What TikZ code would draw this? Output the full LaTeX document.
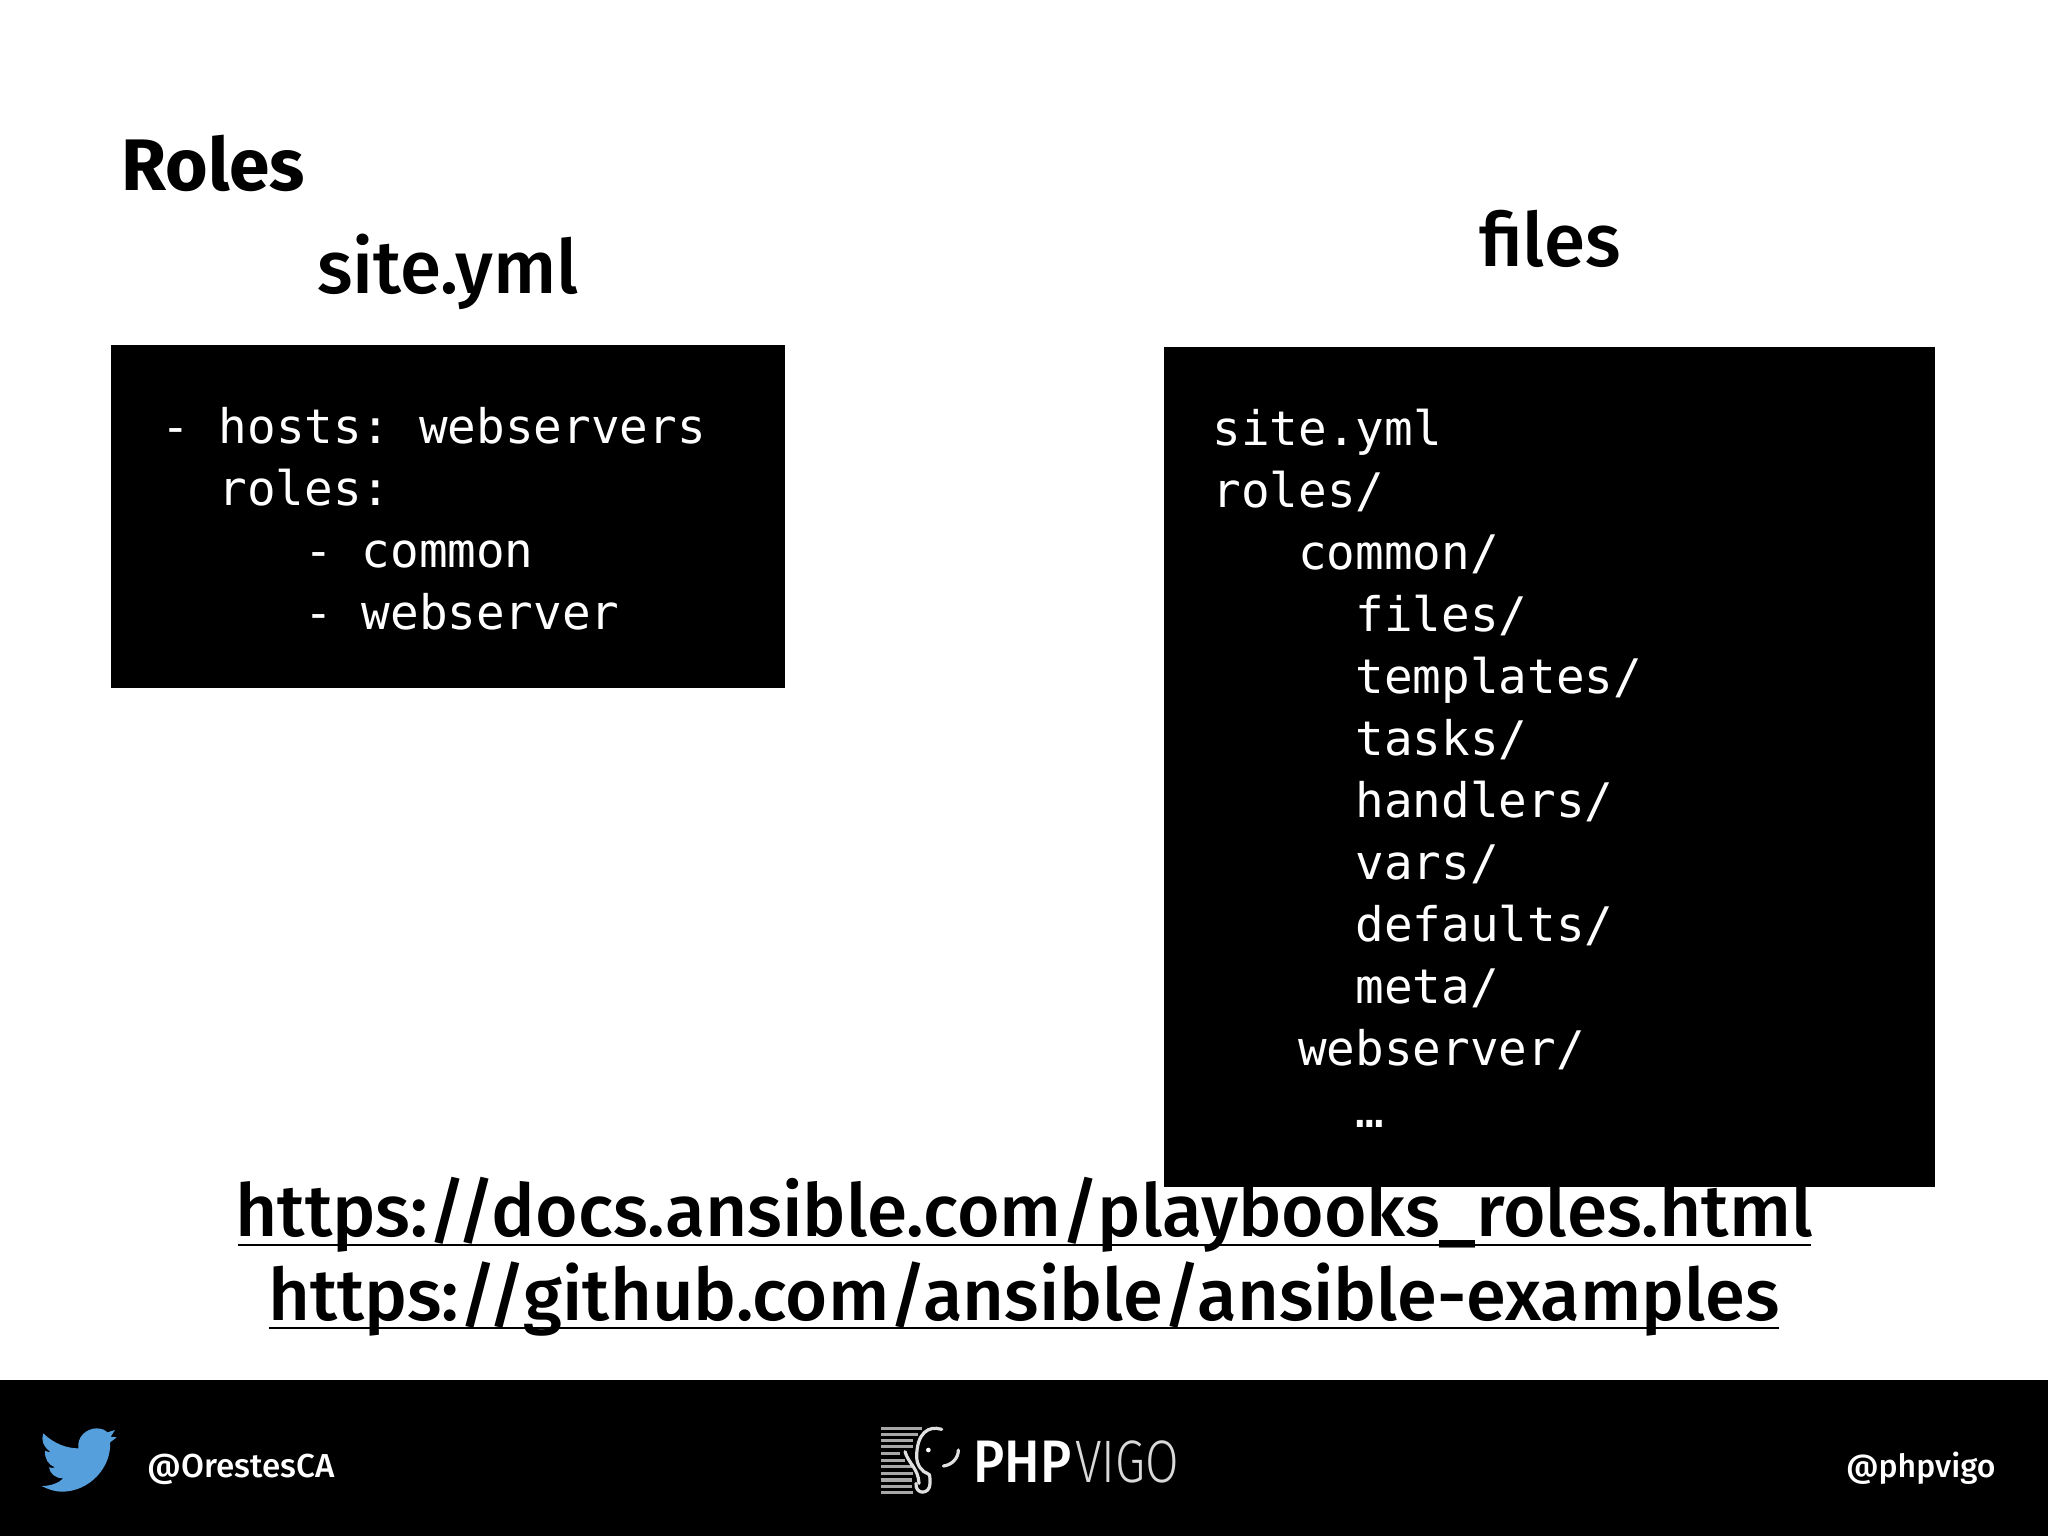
\documentclass[tikz,border=0pt]{standalone}
\usepackage{fontspec}
\setmainfont{Fira Sans}
\newfontfamily\codefont{DejaVu Sans Mono}
\newfontfamily\lightfont{Fira Sans Light}
\newfontfamily\medfont{Fira Sans Medium}
\newlength\chw \setlength\chw{14.3pt}
\newcommand\ind[1]{\hspace*{#1\chw}}
\frenchspacing
\definecolor{birdblue}{HTML}{559FDD}
\definecolor{stripe}{HTML}{A8A8A8}
\tikzset{
  codebox/.style={fill=black,draw=none},
  codetext/.style={text=white,inner sep=0pt,anchor=north west,align=left,font=\codefont\frenchspacing\fontsize{23.8}{31}\selectfont},
  heading/.style={inner sep=0pt,anchor=base,font=\medfont\fontsize{37.3}{40}\selectfont},
  linktext/.style={inner sep=0pt,anchor=base,font=\medfont\fontsize{36.5}{40}\selectfont},
  linkrule/.style={line width=0.7pt,black},
  handle/.style={text=white,inner sep=0pt,font=\medfont\fontsize{16.6}{20}\selectfont},
  stripeline/.style={stripe,line width=1.7pt},
  trunk/.style={white!88!black,line width=1.6pt,line cap=round}
}
\begin{document}
\begin{tikzpicture}[x=0.5pt,y=-0.5pt]
\useasboundingbox (0,0) rectangle (2048,1536);
\fill[white] (0,0) rectangle (2048,1536);
\node[inner sep=0pt,anchor=base west,font=\bfseries\fontsize{36.5}{40}\selectfont] (title) at (121,190) {Roles};
\node[heading] (siteh) at (448,293) {site.yml};
\node[heading] (filesh) at (1550,266) {files};
\fill[codebox] (111,345) rectangle (785,688);
\fill[codebox] (1164,347) rectangle (1935,1187);
\node[codetext] (sitecode) at (161,406.5) {- hosts: webservers\\
\ind{2}roles:\\
\ind{5}- common\\
\ind{5}- webserver};
\node[codetext] (filetree) at (1212,408.5) {site.yml\\
roles/\\
\ind{3}common/\\
\ind{5}files/\\
\ind{5}templates/\\
\ind{5}tasks/\\
\ind{5}handlers/\\
\ind{5}vars/\\
\ind{5}defaults/\\
\ind{5}meta/\\
\ind{3}webserver/\\
\ind{5}…};
\node[linktext] (link1) at (1024,1236) {https://docs.ansible.com/playbooks\_roles.html};
\node[linktext,font=\medfont\fontsize{36.15}{40}\selectfont] (link2) at (1024,1320) {https://github.com/ansible/ansible-examples};
\draw[linkrule] (238,1245) -- (1811,1245);
\draw[linkrule] (269,1328) -- (1779,1328);
\fill[black] (0,1380) rectangle (2048,1536);
\begin{scope}[shift={(0,1380)},x=0.1667pt,y=-0.1667pt]
\fill[birdblue] (130,160) .. controls (160,190) and (200,205) .. (235,205)
  .. controls (230,170) and (260,145) .. (290,145)
  .. controls (305,145) and (315,150) .. (322,157) -- (345,150) -- (332,170) -- (350,172) -- (330,187)
  .. controls (335,260) and (270,335) .. (185,335)
  .. controls (165,335) and (145,328) .. (125,318)
  .. controls (150,318) and (175,310) .. (190,295)
  .. controls (165,295) and (150,280) .. (147,262)
  .. controls (153,264) and (160,264) .. (165,262)
  .. controls (145,255) and (133,235) .. (135,212)
  .. controls (140,215) and (146,216) .. (152,216)
  .. controls (130,200) and (122,180) .. (130,160) -- cycle;
\end{scope}
\node[handle,anchor=base west] (orestes) at (147,1477) {@OrestesCA};
\node[handle,anchor=base east,font=\medfont\fontsize{16}{20}\selectfont] (phpvigo) at (1996,1477) {@phpvigo};
\begin{scope}[shift={(850,1400)},x=0.1667pt,y=-0.1667pt]
\foreach \yy/\xe in {86/215,103/205,122/190,140/190,160/150,182/165,200/185,220/190,240/185,260/185,278/190}
  \draw[stripeline] (92,\yy) -- (\xe,\yy);
\draw[trunk] (275,88) .. controls (235,75) and (200,100) .. (200,170)
  .. controls (200,195) and (215,215) .. (235,222) .. controls (240,222) and (240,235) .. (240,250)
  .. controls (240,285) and (195,285) .. (198,250);
\draw[trunk] (165,155) .. controls (175,190) and (205,205) .. (207,250);
\draw[trunk] (280,198) .. controls (305,195) and (325,175) .. (325,150);
\fill[white] (235,150) circle (7);
\end{scope}
\node[inner sep=0pt,text=white,anchor=base west,xscale=0.88,transform shape,font=\medfont\fontsize{30}{32}\selectfont] (php) at (973,1482) {PHP};
\node[inner sep=0pt,text=white!85!black,anchor=base west,xscale=0.81,transform shape,font=\lightfont\fontsize{30}{32}\selectfont] (vigo) at (1075,1482) {VIGO};
\end{tikzpicture}
\end{document}
